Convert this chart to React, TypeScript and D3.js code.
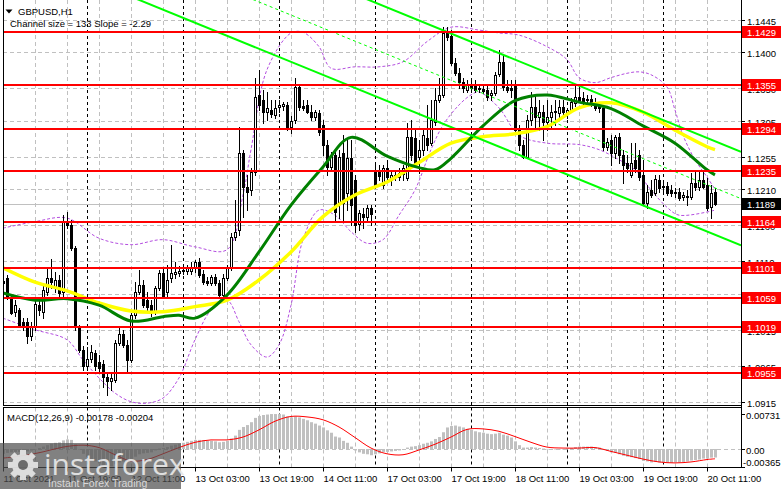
import React, { useEffect } from 'react';
import * as d3 from 'd3';

// ---------- DATA ----------
// Hourly candles: [open, high, low, close]
const ohlc: [number, number, number, number][] = [
  [1.1083,1.1090,1.1067,1.1080],[1.1087,1.1091,1.1058,1.1060],[1.1059,1.1062,1.1037,1.1038],[1.1040,1.1056,1.1034,1.1049],
  [1.1042,1.1045,1.1020,1.1022],[1.1026,1.1031,1.1015,1.1020],[1.1026,1.1031,1.0997,1.1006],[1.1006,1.1026,1.1001,1.1019],
  [1.1019,1.1056,1.1015,1.1051],[1.1049,1.1059,1.1035,1.1042],[1.1040,1.1076,1.1031,1.1070],[1.1067,1.1102,1.1063,1.1087],
  [1.1087,1.1113,1.1073,1.1081],[1.1073,1.1095,1.1067,1.1084],[1.1084,1.1091,1.1059,1.1066],[1.1067,1.1174,1.1062,1.1165],
  [1.1165,1.1178,1.1156,1.1160],[1.1160,1.1167,1.1126,1.1128],[1.1128,1.1131,1.1015,1.1019],[1.1019,1.1022,1.0984,1.0987],
  [1.0987,1.0992,1.0959,1.0965],[1.0965,1.0991,1.0959,1.0974],[1.0974,1.0994,1.0970,1.0984],[1.0983,1.0987,1.0959,1.0965],
  [1.0970,1.0980,1.0956,1.0962],[1.0967,1.0973,1.0935,1.0949],[1.0949,1.0956,1.0924,1.0944],[1.0944,1.0953,1.0931,1.0948],
  [1.0945,1.1001,1.0942,1.0997],[1.0997,1.1017,1.0994,1.1009],[1.1009,1.1015,1.0991,1.0994],[1.0994,1.1001,1.0955,1.0973],
  [1.0973,1.1038,1.0970,1.1035],[1.1035,1.1081,1.1031,1.1067],[1.1067,1.1098,1.1065,1.1077],[1.1077,1.1084,1.1047,1.1049],
  [1.1056,1.1067,1.1042,1.1047],[1.1049,1.1056,1.1034,1.1040],[1.1040,1.1076,1.1037,1.1073],[1.1073,1.1098,1.1070,1.1094],
  [1.1094,1.1101,1.1059,1.1062],[1.1067,1.1105,1.1062,1.1084],[1.1087,1.1133,1.1081,1.1094],[1.1092,1.1109,1.1087,1.1095],
  [1.1094,1.1104,1.1090,1.1097],[1.1097,1.1101,1.1092,1.1098],[1.1097,1.1105,1.1092,1.1101],[1.1097,1.1109,1.1092,1.1102],
  [1.1101,1.1112,1.1095,1.1109],[1.1109,1.1115,1.1088,1.1091],[1.1092,1.1098,1.1078,1.1081],[1.1083,1.1088,1.1077,1.1080],
  [1.1080,1.1091,1.1077,1.1088],[1.1088,1.1092,1.1077,1.1080],[1.1080,1.1084,1.1060,1.1063],[1.1063,1.1092,1.1060,1.1087],
  [1.1087,1.1105,1.1084,1.1102],[1.1102,1.1149,1.1098,1.1144],[1.1144,1.1195,1.1140,1.1151],[1.1153,1.1297,1.1147,1.1260],
  [1.1260,1.1265,1.1171,1.1213],[1.1213,1.1230,1.1181,1.1206],[1.1209,1.1240,1.1202,1.1234],[1.1234,1.1365,1.1230,1.1338],
  [1.1341,1.1376,1.1320,1.1327],[1.1334,1.1348,1.1302,1.1317],[1.1317,1.1345,1.1306,1.1323],[1.1320,1.1334,1.1310,1.1314],
  [1.1313,1.1334,1.1309,1.1323],[1.1324,1.1334,1.1317,1.1327],[1.1326,1.1331,1.1320,1.1328],[1.1327,1.1331,1.1292,1.1297],
  [1.1297,1.1312,1.1288,1.1305],[1.1306,1.1365,1.1302,1.1352],[1.1352,1.1356,1.1320,1.1324],[1.1326,1.1334,1.1320,1.1323],
  [1.1327,1.1334,1.1316,1.1317],[1.1317,1.1327,1.1306,1.1310],[1.1310,1.1320,1.1306,1.1317],[1.1316,1.1320,1.1285,1.1290],
  [1.1299,1.1306,1.1258,1.1272],[1.1272,1.1278,1.1230,1.1241],[1.1241,1.1262,1.1237,1.1258],[1.1258,1.1265,1.1167,1.1178],
  [1.1191,1.1265,1.1170,1.1255],[1.1260,1.1285,1.1167,1.1191],[1.1205,1.1281,1.1181,1.1253],[1.1253,1.1278,1.1160,1.1188],
  [1.1223,1.1230,1.1151,1.1160],[1.1162,1.1181,1.1153,1.1177],[1.1176,1.1184,1.1156,1.1171],[1.1171,1.1188,1.1165,1.1184],
  [1.1184,1.1188,1.1160,1.1176],[1.1237,1.1244,1.1213,1.1216],[1.1234,1.1244,1.1223,1.1228],[1.1216,1.1244,1.1212,1.1240],
  [1.1240,1.1251,1.1223,1.1227],[1.1223,1.1237,1.1216,1.1230],[1.1230,1.1237,1.1223,1.1228],[1.1227,1.1240,1.1223,1.1233],
  [1.1231,1.1244,1.1223,1.1240],[1.1226,1.1302,1.1223,1.1283],[1.1283,1.1306,1.1251,1.1258],[1.1281,1.1292,1.1244,1.1247],
  [1.1255,1.1278,1.1233,1.1265],[1.1265,1.1292,1.1258,1.1285],[1.1281,1.1327,1.1265,1.1272],[1.1274,1.1334,1.1272,1.1306],
  [1.1303,1.1351,1.1299,1.1334],[1.1334,1.1365,1.1331,1.1341],[1.1341,1.1435,1.1338,1.1427],[1.1428,1.1435,1.1417,1.1421],
  [1.1423,1.1431,1.1383,1.1385],[1.1385,1.1392,1.1369,1.1371],[1.1371,1.1378,1.1351,1.1359],[1.1359,1.1365,1.1345,1.1351],
  [1.1348,1.1362,1.1345,1.1356],[1.1356,1.1362,1.1348,1.1351],[1.1353,1.1362,1.1345,1.1348],[1.1351,1.1356,1.1345,1.1349],
  [1.1349,1.1353,1.1344,1.1346],[1.1348,1.1355,1.1334,1.1338],[1.1341,1.1348,1.1334,1.1344],[1.1344,1.1373,1.1341,1.1369],
  [1.1370,1.1403,1.1367,1.1387],[1.1387,1.1396,1.1348,1.1352],[1.1352,1.1362,1.1345,1.1348],[1.1351,1.1362,1.1338,1.1348],
  [1.1355,1.1362,1.1290,1.1292],[1.1292,1.1299,1.1265,1.1272],[1.1272,1.1278,1.1253,1.1255],[1.1255,1.1313,1.1253,1.1306],
  [1.1306,1.1345,1.1299,1.1324],[1.1324,1.1341,1.1292,1.1310],[1.1310,1.1334,1.1292,1.1317],[1.1317,1.1327,1.1278,1.1303],
  [1.1303,1.1334,1.1292,1.1310],[1.1310,1.1327,1.1295,1.1317],[1.1317,1.1334,1.1299,1.1319],[1.1316,1.1334,1.1309,1.1324],
  [1.1324,1.1334,1.1313,1.1317],[1.1314,1.1323,1.1309,1.1320],[1.1320,1.1337,1.1317,1.1331],[1.1330,1.1355,1.1326,1.1338],
  [1.1338,1.1352,1.1331,1.1334],[1.1337,1.1345,1.1328,1.1333],[1.1334,1.1341,1.1330,1.1335],[1.1335,1.1341,1.1326,1.1328],
  [1.1331,1.1337,1.1320,1.1323],[1.1326,1.1331,1.1317,1.1323],[1.1323,1.1327,1.1265,1.1269],[1.1269,1.1281,1.1265,1.1276],
  [1.1278,1.1285,1.1244,1.1260],[1.1260,1.1285,1.1253,1.1283],[1.1283,1.1288,1.1247,1.1258],[1.1258,1.1265,1.1219,1.1244],
  [1.1247,1.1258,1.1234,1.1240],[1.1230,1.1274,1.1227,1.1247],[1.1251,1.1274,1.1234,1.1240],[1.1258,1.1265,1.1223,1.1227],
  [1.1230,1.1251,1.1188,1.1191],[1.1191,1.1216,1.1184,1.1206],[1.1209,1.1223,1.1199,1.1202],[1.1205,1.1230,1.1202,1.1224],
  [1.1223,1.1230,1.1206,1.1212],[1.1213,1.1223,1.1206,1.1215],[1.1215,1.1220,1.1202,1.1205],[1.1209,1.1216,1.1201,1.1205],
  [1.1205,1.1212,1.1199,1.1206],[1.1206,1.1212,1.1195,1.1198],[1.1199,1.1206,1.1195,1.1202],[1.1201,1.1209,1.1188,1.1200],
  [1.1199,1.1233,1.1197,1.1219],[1.1219,1.1237,1.1209,1.1213],[1.1213,1.1237,1.1209,1.1223],[1.1223,1.1237,1.1212,1.1213],
  [1.1216,1.1226,1.1181,1.1184],[1.1185,1.1216,1.1170,1.1205],[1.1206,1.1212,1.1188,1.1189],
];

// Moving averages, sampled [candle index, price]
const maYellow: [number, number][] = [
  [0,1.1101],[8,1.1081],[16,1.1069],[24,1.1052],[32,1.1041],[40,1.1040],[48,1.1047],[56,1.1056],[64,1.1084],
  [72,1.1123],[80,1.1172],[88,1.1202],[96,1.1220],[104,1.1247],[112,1.1274],[120,1.1283],[128,1.1287],[136,1.1297],
  [144,1.1323],[152,1.1330],[160,1.1317],[168,1.1292],[176,1.1269],[178,1.1265],
];
const maGreen: [number, number][] = [
  [0,1.1066],[8,1.1056],[16,1.1058],[24,1.1049],[32,1.1027],[40,1.1033],[44,1.1035],[48,1.1031],[56,1.1063],[64,1.1123],
  [72,1.1188],[80,1.1241],[87,1.1282],[96,1.1256],[104,1.1240],[108,1.1237],[112,1.1253],[120,1.1298],[128,1.1333],
  [136,1.1341],[144,1.1331],[152,1.1322],[160,1.1298],[168,1.1274],[176,1.1237],[178,1.1230],
];
// Envelope (dashed purple), sampled [candle index, price]
const bandUpper: [number, number][] = [
  [0,1.1156],[8,1.1165],[16,1.1170],[24,1.1142],[32,1.1133],[40,1.1140],[48,1.1130],[56,1.1126],[60,1.1202],[62,1.1265],
  [66,1.1376],[72,1.1427],[75,1.1428],[79,1.1408],[82,1.1378],[88,1.1380],[94,1.1380],[100,1.1387],[106,1.1415],
  [112,1.1435],[119,1.1431],[124,1.1427],[129,1.1424],[136,1.1408],[141,1.1390],[144,1.1365],[148,1.1358],[152,1.1365],
  [156,1.1371],[159,1.1373],[162,1.1369],[166,1.1352],[168,1.1320],[170,1.1285],[173,1.1251],[176,1.1227],[178,1.1210],
];
const bandLower: [number, number][] = [
  [0,1.1031],[8,1.1015],[16,1.1001],[20,1.0973],[24,1.0948],[28,1.0927],[32,1.0915],[36,1.0913],[40,1.0920],[44,1.0948],
  [48,1.1001],[52,1.1042],[56,1.1056],[59,1.1026],[62,1.0994],[66,1.0977],[69,1.0994],[72,1.1049],[75,1.1140],[79,1.1181],
  [83,1.1174],[87,1.1151],[91,1.1135],[95,1.1140],[99,1.1174],[103,1.1209],[107,1.1265],[110,1.1299],[114,1.1327],
  [117,1.1341],[119,1.1345],[124,1.1323],[129,1.1285],[136,1.1274],[144,1.1272],[149,1.1265],[154,1.1251],[158,1.1237],
  [162,1.1209],[166,1.1185],[169,1.1174],[178,1.1181],
];
// Regression channel: middle line [index, price] endpoints and half width
const channelIdx = [0, 184.5];
const channelMid = [1.1615, 1.1197];
const channelHalf = 0.0065;

// Horizontal levels
const levels = [1.1429, 1.1355, 1.1294, 1.1235, 1.1164, 1.1101, 1.1059, 1.1019, 1.0955];
const bidPrice = 1.1189;
const priceTicks = [1.1445, 1.1400, 1.1350, 1.1305, 1.1255, 1.1210, 1.1160, 1.1110, 1.1065, 1.1015, 1.0965, 1.0915];

// Time axis
const timeLabels = ['11 Oct 2021','11 Oct 19:00','12 Oct 11:00','13 Oct 03:00','13 Oct 19:00','14 Oct 11:00',
  '17 Oct 03:00','17 Oct 19:00','18 Oct 11:00','19 Oct 03:00','19 Oct 19:00','20 Oct 11:00'];
const timeIdx = [0,16,32,48,64,80,96,112,128,144,160,176];
const daySeparators = [21,45,69,93,117,141,165];

// MACD(12,26,9)
const macdHist = [
  -0.0010,-0.0008,-0.0007,-0.0006,-0.0006,-0.0005,-0.0005,-0.0003,-0.0001,0.0002,
  0.0005,0.0008,0.0011,0.0013,0.0014,0.0018,0.0020,0.0019,0.0010,0.0000,
  -0.0010,-0.0017,-0.0021,-0.0026,-0.0030,-0.0034,-0.0036,-0.0036,-0.0032,-0.0028,
  -0.0026,-0.0027,-0.0022,-0.0016,-0.0011,-0.0009,-0.0008,-0.0007,-0.0003,0.0001,
  0.0002,0.0004,0.0007,0.0009,0.0011,0.0013,0.0015,0.0017,0.0019,0.0019,
  0.0018,0.0017,0.0017,0.0016,0.0014,0.0015,0.0017,0.0022,0.0028,0.0040,
  0.0046,0.0050,0.0056,0.0065,0.0069,0.0071,0.0072,0.0073,0.0073,0.0073,
  0.0072,0.0068,0.0066,0.0068,0.0066,0.0063,0.0060,0.0056,0.0053,0.0049,
  0.0045,0.0039,0.0034,0.0026,0.0024,0.0017,0.0013,0.0005,-0.0003,-0.0007,
  -0.0010,-0.0011,-0.0013,-0.0011,-0.0009,-0.0006,-0.0006,-0.0005,-0.0004,-0.0003,
  -0.0002,0.0003,0.0005,0.0006,0.0008,0.0011,0.0013,0.0016,0.0021,0.0025,
  0.0035,0.0045,0.0048,0.0049,0.0047,0.0045,0.0042,0.0040,0.0037,0.0035,
  0.0034,0.0032,0.0031,0.0032,0.0034,0.0030,0.0028,0.0024,0.0016,0.0008,
  0.0003,0.0003,0.0004,0.0003,0.0002,0.0001,0.0000,0.0000,-0.0001,0.0000,
  -0.0001,0.0001,0.0002,0.0004,0.0005,0.0005,0.0005,0.0005,0.0004,0.0003,
  -0.0002,-0.0004,-0.0007,-0.0008,-0.0011,-0.0014,-0.0016,-0.0017,-0.0019,-0.0021,
  -0.0025,-0.0026,-0.0028,-0.0027,-0.0028,-0.0029,-0.0029,-0.0029,-0.0028,-0.0028,
  -0.0027,-0.0026,-0.0024,-0.0023,-0.0022,-0.0020,-0.0020,-0.0018,-0.00178,
];
const macdSignal: [number, number][] = [
  [0,-0.0019],[5,-0.0014],[10,-0.0006],[15,0.0004],[20,0.0008],[24,0.0003],[28,-0.0012],[32,-0.0025],[36,-0.0022],
  [40,-0.0010],[44,0.0003],[48,0.0014],[52,0.0019],[56,0.0019],[60,0.0025],[64,0.0040],[68,0.0058],[72,0.0068],
  [76,0.0067],[80,0.0061],[84,0.0046],[88,0.0024],[92,0.0002],[96,-0.0010],[100,-0.0012],[104,-0.0002],[108,0.0010],
  [112,0.0025],[116,0.0041],[120,0.0042],[124,0.0037],[128,0.0026],[132,0.0014],[136,0.0004],[140,0.0002],[144,0.0002],
  [148,0.0003],[152,-0.0005],[156,-0.0013],[160,-0.0021],[164,-0.0027],[168,-0.0029],[172,-0.0027],[176,-0.0022],[178,-0.00204],
];
const macdTicks = [0.00731, 0, -0.00365];
const macdTickText = ['0.00731', '0.00', '-0.00365'];

const FONT = "'Liberation Sans', Arial, sans-serif";

export default function App() {
  useEffect(() => { document.body.style.margin = '0'; }, []);

  const L = 3, R = 741, mainBottom = 405.5, macdTop = 407.5, macdBottom = 467.5;
  const x = d3.scaleLinear().domain([0, 178]).range([3, 715]);
  const y = d3.scaleLinear().domain([1.0915, 1.1445]).range([401.7, 20]);
  const ym = d3.scaleLinear().domain([-0.00365, 0.00731]).range([466.5, 414]);

  const line = d3.line<[number, number]>().x(d => x(d[0])).y(d => y(d[1])).curve(d3.curveCatmullRom.alpha(0.5));
  const mline = d3.line<[number, number]>().x(d => x(d[0])).y(d => ym(d[1])).curve(d3.curveCatmullRom.alpha(0.5));

  const fs = 9.5;
  const vGrid = d3.range(8, 184, 8);

  const chan = (off: number) => {
    const pts: [number, number][] = [[channelIdx[0], channelMid[0] + off], [channelIdx[1], channelMid[1] + off]];
    return d3.line<[number, number]>().x(d => x(d[0])).y(d => y(d[1]))(pts) as string;
  };

  return (
    <svg width={781} height={489} style={{ position: 'absolute', left: 0, top: 0, display: 'block' }} fontFamily={FONT}>
      <defs>
        <clipPath id="mainClip"><rect x={L} y={0} width={R - L} height={mainBottom} /></clipPath>
        <clipPath id="macdClip"><rect x={L} y={macdTop + 0.5} width={R - L} height={macdBottom - macdTop - 1} /></clipPath>
      </defs>
      <rect x={0} y={0} width={781} height={489} fill="#fff" />

      {/* grid main */}
      <g stroke="#c0c0c0" strokeWidth={1} strokeDasharray="4,3">
        {priceTicks.map((p, k) => (
          <line key={'h' + k} x1={L} x2={R} y1={Math.round(y(p)) + 0.5} y2={Math.round(y(p)) + 0.5} />
        ))}
        {vGrid.map(i => (
          <line key={'v' + i} x1={Math.round(x(i)) + 0.5} x2={Math.round(x(i)) + 0.5} y1={0} y2={mainBottom} />
        ))}
        {vGrid.map(i => (
          <line key={'vm' + i} x1={Math.round(x(i)) + 0.5} x2={Math.round(x(i)) + 0.5} y1={macdTop} y2={macdBottom} />
        ))}
        <line x1={L} x2={R} y1={Math.round(ym(0)) + 0.5} y2={Math.round(ym(0)) + 0.5} />
      </g>
      <g stroke="#000" strokeWidth={1} strokeDasharray="3,3">
        {daySeparators.map(i => (
          <g key={'d' + i}>
            <line x1={Math.round(x(i)) + 0.5} x2={Math.round(x(i)) + 0.5} y1={0} y2={mainBottom} />
            <line x1={Math.round(x(i)) + 0.5} x2={Math.round(x(i)) + 0.5} y1={macdTop} y2={macdBottom} />
          </g>
        ))}
      </g>

      {/* bid line */}
      <line x1={L} x2={R} y1={Math.round(y(bidPrice)) + 0.5} y2={Math.round(y(bidPrice)) + 0.5} stroke="#c0c0c0" />

      <g clipPath="url(#mainClip)">
        {/* envelopes */}
        <path d={line(bandUpper) as string} fill="none" stroke="#b44fe0" strokeWidth={1} strokeDasharray="3,2" />
        <path d={line(bandLower) as string} fill="none" stroke="#b44fe0" strokeWidth={1} strokeDasharray="3,2" />

        {/* candles */}
        {ohlc.map(([o, h, l, c], i) => {
          const X = Math.round(x(i));
          const yo = Math.round(y(o)), yc = Math.round(y(c)), yh = Math.round(y(h)), yl = Math.round(y(l));
          const top = Math.min(yo, yc), bot = Math.max(yo, yc);
          const bull = c >= o;
          return (
            <g key={'c' + i}>
              <line x1={X + 0.5} x2={X + 0.5} y1={yh} y2={yl + 1} stroke="#000" />
              {bull
                ? <rect x={X - 0.5} y={top + 0.5} width={2} height={Math.max(bot - top, 0)} fill="#fff" stroke="#000" />
                : <rect x={X - 1} y={top} width={3} height={Math.max(bot - top, 1) + 1} fill="#000" />}
            </g>
          );
        })}

        {/* moving averages */}
        <path d={line(maYellow) as string} fill="none" stroke="#ffff00" strokeWidth={3.5} />
        <path d={line(maGreen) as string} fill="none" stroke="#008000" strokeWidth={3} />

        {/* channel */}
        <path d={chan(channelHalf)} stroke="#00ff00" strokeWidth={2} fill="none" />
        <path d={chan(-channelHalf)} stroke="#00ff00" strokeWidth={2} fill="none" />
        <path d={chan(0)} stroke="#00ff00" strokeWidth={1} strokeDasharray="3,3" fill="none" />

        {/* levels */}
        {levels.map((lv, k) => (
          <line key={'lv' + k} x1={L} x2={R} y1={Math.round(y(lv))} y2={Math.round(y(lv))} stroke="#ff0000" strokeWidth={2} />
        ))}
      </g>

      {/* MACD */}
      <g clipPath="url(#macdClip)">
        {macdHist.map((v, i) => {
          const X = Math.round(x(i));
          const y0 = ym(0), y1 = ym(v);
          return <rect key={'m' + i} x={X - 1} y={Math.min(y0, y1)} width={3} height={Math.max(Math.abs(y1 - y0), 0.5)} fill="#c0c0c0" />;
        })}
        <path d={mline(macdSignal) as string} fill="none" stroke="#ff0000" strokeWidth={1} />
      </g>

      {/* frames */}
      <g stroke="#000" strokeWidth={1} fill="none">
        <line x1={L + 0.5} x2={L + 0.5} y1={0} y2={mainBottom} />
        <line x1={L + 0.5} x2={L + 0.5} y1={macdTop} y2={macdBottom} />
        <line x1={R + 0.5} x2={R + 0.5} y1={0} y2={macdBottom} />
        <line x1={L} x2={R + 1} y1={mainBottom} y2={mainBottom} />
        <line x1={L} x2={R + 1} y1={macdTop} y2={macdTop} />
        <line x1={L} x2={R + 1} y1={macdBottom} y2={macdBottom} />
      </g>

      {/* price axis */}
      {priceTicks.map((p, k) => {
        const yy = Math.round(y(p)) + 0.5;
        return (
          <g key={'pt' + k}>
            <line x1={R + 1} x2={R + 4} y1={yy} y2={yy} stroke="#000" />
            <text x={747} y={yy + 4} fontSize={fs} fill="#000">{p.toFixed(4)}</text>
          </g>
        );
      })}
      {levels.map((lv, k) => {
        const yy = Math.round(y(lv));
        return (
          <g key={'lb' + k}>
            <rect x={742} y={yy - 6} width={39} height={12} fill="#ff0000" />
            <text x={747} y={yy + 4} fontSize={fs} fill="#fff">{lv.toFixed(4)}</text>
          </g>
        );
      })}
      <rect x={742} y={Math.round(y(bidPrice)) - 6} width={39} height={12} fill="#000" />
      <text x={747} y={Math.round(y(bidPrice)) + 4} fontSize={fs} fill="#fff">{bidPrice.toFixed(4)}</text>

      {/* MACD axis */}
      {macdTicks.map((v, k) => {
        const yy = Math.min(Math.round(ym(v)), 461) + 0.5;
        return (
          <g key={'mt' + k}>
            <line x1={R + 1} x2={R + 4} y1={Math.round(ym(v)) + 0.5} y2={Math.round(ym(v)) + 0.5} stroke="#000" />
            <text x={v < 0 ? 743 : 746} y={yy + 4} fontSize={fs} fill="#000">{macdTickText[k]}</text>
          </g>
        );
      })}

      {/* time axis */}
      {timeIdx.map((i, k) => {
        const X = Math.round(x(i)) + 0.5;
        return (
          <g key={'t' + k}>
            <line x1={X} x2={X} y1={macdBottom} y2={macdBottom + 4} stroke="#000" />
            <text x={X} y={482} fontSize={fs} fill="#000">{timeLabels[k]}</text>
          </g>
        );
      })}

      {/* titles */}
      <path d="M5.5,9.5 L12.5,9.5 L9,13.5 Z" fill="#000" />
      <text x={18} y={15} fontSize={fs} fill="#000">GBPUSD,H1</text>
      <text x={10} y={27} fontSize={fs} fill="#000">Channel size = 133 Slope = -2.29</text>
      <text x={7} y={421} fontSize={fs} fill="#000">MACD(12,26,9) -0.00178 -0.00204</text>

      {/* watermark */}
      <g>
        <rect x={0} y={443} width={181} height={46} fill="#505050" opacity={0.72} />
        <g transform="translate(23,465)" fill="#e8e8e8" opacity={0.9}>
          {d3.range(8).map(k => (
            <rect key={'g' + k} x={-3} y={-15} width={6} height={6} transform={`rotate(${k * 45})`} />
          ))}
          <circle r={11} />
          <circle r={5} fill="#6a6a6a" />
        </g>
        <text x={44} y={475} fontSize={30} fill="#e8e8e8" fontFamily="'Open Sans', 'Liberation Sans', sans-serif" opacity={0.92}>instaforex</text>
        <text x={48} y={487} fontSize={10.5} fill="#d8d8d8">Instant Forex Trading</text>
      </g>
    </svg>
  );
}
